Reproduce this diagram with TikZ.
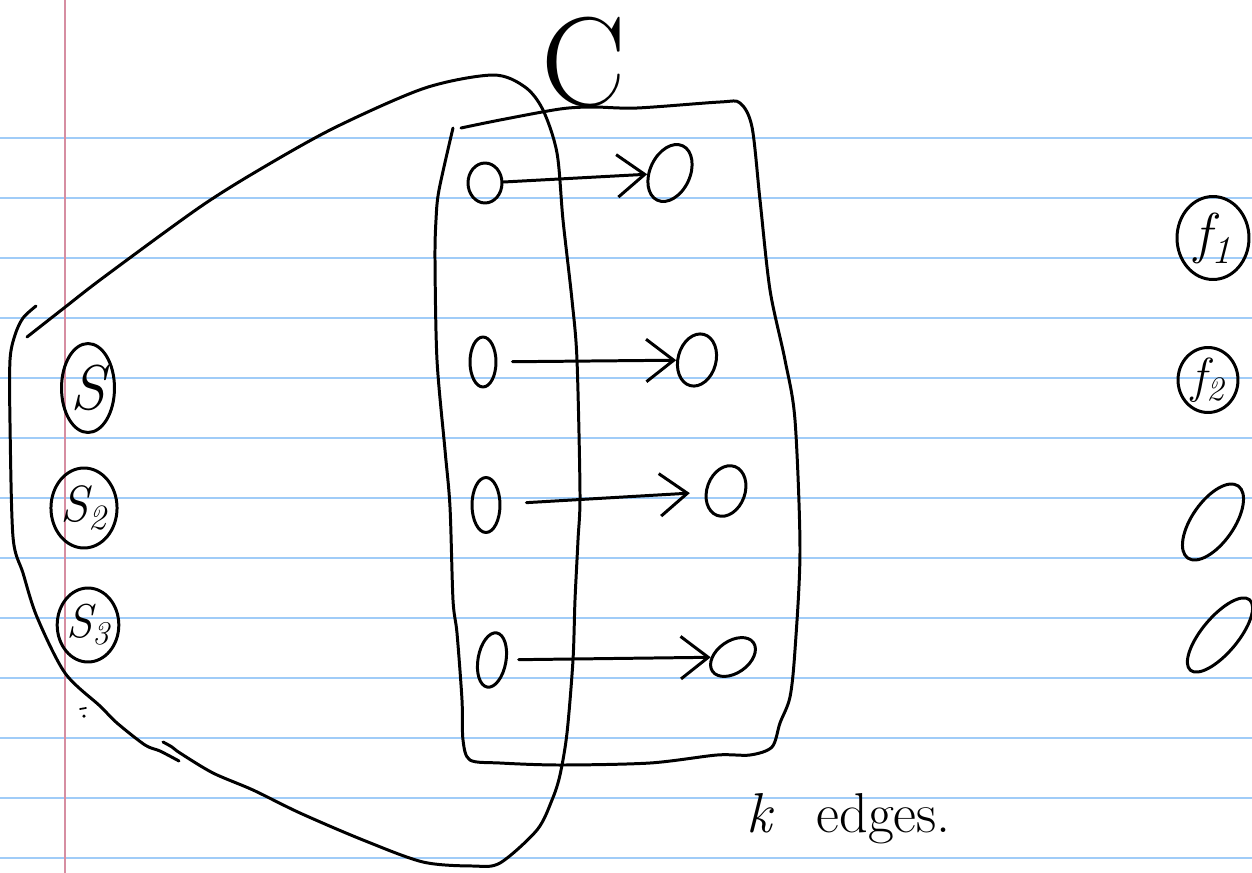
\documentclass[tikz,border=0pt]{standalone}
\usepackage{tikz}
\usetikzlibrary{shapes.geometric}
\usetikzlibrary{arrows.meta}
\definecolor{ruleblue}{RGB}{160,204,248}
\definecolor{marginred}{RGB}{214,142,162}

\begin{document}
\begin{tikzpicture}[x = .02cm, y = -.02cm,
  pen/.style = {line width = 1.7pt, line cap = round, line join = round},
  vertex/.style = {pen, draw, ellipse, inner sep = 0pt},
  edgearrow/.style = {pen, -{Straight Barb[length = .55cm, width = .85cm]}}]
 \fill[white] (0,0) rectangle (1252,873);
 \useasboundingbox (0,0) rectangle (1252,873);
% ruled paper
 \foreach \y in {138,198,...,858}
  \draw[ruleblue, line width = 1.3pt] (0,\y) -- (1252,\y);
 \draw[marginred, line width = 1.3pt] (65,0) -- (65,873);
% sources
\node[vertex, minimum width = 1.06cm, minimum height = 1.78cm] (s1) at (88,388) {\fontsize{36}{36}\selectfont\itshape S};
\node[vertex, minimum width = 1.24cm, minimum height = 1.6cm] (s2) at (84,508) {\fontsize{29}{29}\selectfont\itshape S\textsubscript{2}};
\node[vertex, minimum width = 1.14cm, minimum height = 1.48cm] (s3) at (88,625) {\fontsize{27}{27}\selectfont\itshape S\textsubscript{3}};
% the two columns inside C
\node[vertex, minimum width = .68cm, minimum height = .8cm] (a1) at (485,183) {};
\node[vertex, minimum width = .52cm, minimum height = 1cm] (a2) at (483,362) {};
\node[vertex, minimum width = .56cm, minimum height = 1.1cm] (a3) at (486,505) {};
\node[vertex, minimum width = .56cm, minimum height = 1.1cm, rotate = -10] (a4) at (492,660) {};
\node[vertex, minimum width = .8cm, minimum height = 1.2cm, rotate = -25] (b1) at (670,173) {};
\node[vertex, minimum width = .76cm, minimum height = 1.06cm, rotate = -15] (b2) at (697,360) {};
\node[vertex, minimum width = .76cm, minimum height = 1.04cm, rotate = -20] (b3) at (726,491) {};
\node[vertex, minimum width = 1cm, minimum height = .64cm, rotate = 35] (b4) at (733,657) {};
% sinks
\node[vertex, minimum width = 1.44cm, minimum height = 1.66cm] (f1) at (1213,238) {\fontsize{32}{32}\selectfont\itshape f\textsubscript{1}};
\node[vertex, minimum width = 1.2cm, minimum height = 1.3cm] (f2) at (1208,380) {\fontsize{28}{28}\selectfont\itshape f\textsubscript{2}};
\node[vertex, minimum width = 1.76cm, minimum height = .84cm, rotate = 55] (f3) at (1213,522) {};
\node[vertex, minimum width = 1.84cm, minimum height = .72cm, rotate = 50] (f4) at (1220,635) {};
% the k edges
 \draw[edgearrow] (a1) -- (b1);
 \draw[edgearrow, shorten <= .3cm] (a2) -- (b2);
 \draw[edgearrow, shorten <= .5cm, shorten >= .3cm] (a3) -- (b3);
 \draw[edgearrow, shorten <= .22cm] (a4) -- (b4);
% set C
 \draw[pen] plot[smooth] coordinates {(461,128) (500,120) (560,109) (593,107) (637,108) (720,102) (740,103) (752,127) (760,200) (770,290) (785,360) (795,420) (800,550) (795,650) (790,697) (780,723) (772,747) (750,755) (717,755) (650,763) (560,765) (500,763) (470,760) (463,740) (462,700) (457,633) (453,600) (450,507) (445,450) (437,360) (435,260) (436,220) (439,190) (453,128)};
% the loop round the sources
 \draw[pen] plot[smooth] coordinates {(36,306) (23,318) (15,335) (10,360) (10,423) (13,537) (23,573) (37,617) (65,673) (100,706) (117,723) (145,745) (160,751) (179,761)};
 \draw[pen] plot[smooth] coordinates {(27,337) (64,308) (104,277) (200,207) (264,167) (336,127) (425,88) (493,75) (525,87) (543,110) (557,153) (563,220) (572,300) (577,360) (580,493) (578,540) (575,600) (573,660) (567,733) (560,775) (552,800) (537,830) (500,863) (473,866) (423,862) (363,840) (300,813) (253,790) (213,773) (180,753) (172,747) (163,742)};
 \draw[pen, line width = 1pt] (80,709) -- (86,708);
 \fill (84,716) circle (1pt);
% labels
\node[inner sep = 0pt] (cname) at (584,62) {\fontsize{72}{72}\selectfont C};
\node[anchor = base west] (klabel) at (740,832) {\fontsize{32}{32}\selectfont\itshape k\hspace{.8em}\upshape edges.};
 \end{tikzpicture}
\end{document}
